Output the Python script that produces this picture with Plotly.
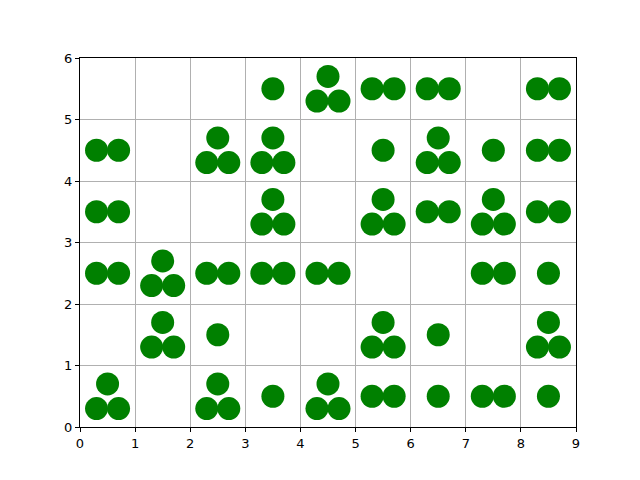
import plotly.graph_objects as go

# number of circles in each grid cell, rows from y=0 (bottom) to y=5 (top), columns x=0..8
row0 = [3, 0, 3, 1, 3, 2, 1, 2, 1]
row1 = [0, 3, 1, 0, 0, 3, 1, 0, 3]
row2 = [2, 3, 2, 2, 2, 0, 0, 2, 1]
row3 = [2, 0, 0, 3, 0, 3, 2, 3, 2]
row4 = [2, 0, 3, 3, 0, 1, 3, 1, 2]
row5 = [0, 0, 0, 1, 3, 2, 2, 0, 2]
rows = [row0, row1, row2, row3, row4, row5]

x_ticks = list(range(10))
y_ticks = list(range(7))

# arrangement of circles within a cell for a given count
layouts = {
    1: [(0.5, 0.5)],
    2: [(0.3, 0.5), (0.7, 0.5)],
    3: [(0.3, 0.3), (0.7, 0.3), (0.5, 0.7)],
}

xs, ys = [], []
for j, row in enumerate(rows):
    for i, n in enumerate(row):
        for dx, dy in layouts.get(n, []):
            xs.append(i + dx)
            ys.append(j + dy)

fig = go.Figure(go.Scatter(
    x=xs, y=ys, mode="markers",
    marker=dict(size=23, color="#008000", line=dict(width=0)),
    hoverinfo="skip",
))

axis_common = dict(
    showgrid=True, gridcolor="#b0b0b0", gridwidth=1,
    showline=True, linecolor="black", linewidth=1, mirror=True,
    ticks="outside", ticklen=4, tickwidth=1, tickcolor="black",
    zeroline=False, tickfont=dict(family="DejaVu Sans", size=13, color="black"),
)
fig.update_xaxes(range=[0, 9], tickvals=x_ticks, **axis_common)
fig.update_yaxes(range=[0, 6], tickvals=y_ticks, **axis_common)

fig.update_layout(
    width=640, height=480,
    margin=dict(l=80, r=64, t=58, b=53),
    plot_bgcolor="white", paper_bgcolor="white",
    showlegend=False,
)

fig.write_html("out.html")
